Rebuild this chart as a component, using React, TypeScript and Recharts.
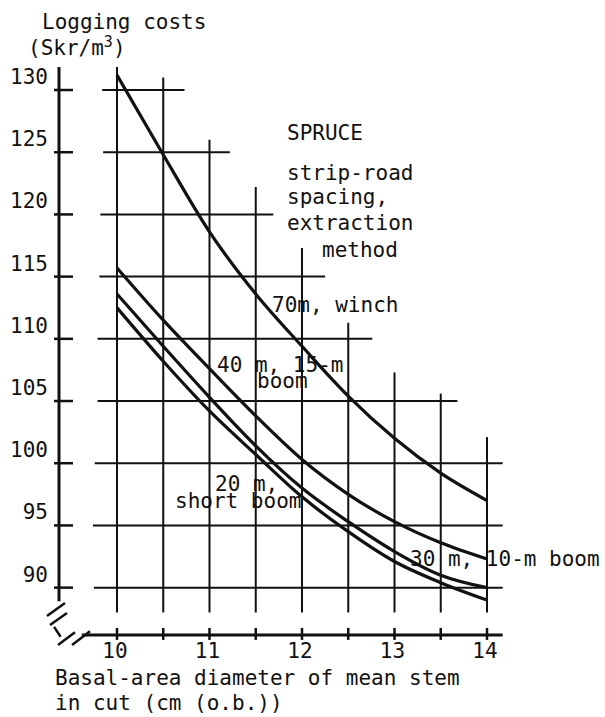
import React from 'react';
import { LineChart, Line, XAxis, YAxis, ReferenceLine } from 'recharts';

// basal-area diameter (cm)
const diameters = [10, 10.5, 11, 11.5, 12, 12.5, 13, 13.5, 14];
// logging costs (Skr/m3) per strip-road spacing / extraction method
const winch70 = [131.2, 124.8, 118.6, 113.6, 109.4, 105.4, 102.0, 99.2, 97.0];
const boom15m40 = [115.7, 111.5, 107.6, 103.8, 100.3, 97.5, 95.3, 93.6, 92.3];
const boom10m30 = [113.6, 109.4, 105.3, 101.4, 98.0, 95.3, 92.9, 91.0, 90.0];
const shortBoom20 = [112.5, 108.2, 104.2, 100.7, 97.3, 94.5, 92.1, 90.4, 89.0];

const yTicks = [90, 95, 100, 105, 110, 115, 120, 125, 130];
const xTicks = [10, 10.5, 11, 11.5, 12, 12.5, 13, 13.5, 14];

// staircase grid: where each line starts / stops
const hGridStart = [9.75, 9.74, 9.76, 9.79, 9.79, 9.81, 9.82, 9.85, 9.84];
const hGridEnd = [14.17, 14.17, 14.17, 13.68, 12.76, 12.25, 11.69, 11.22, 10.73];
const vGridTop = [131.85, 131.0, 126.0, 122.2, 117.3, 111.3, 107.3, 105.6, 102.1];
const vGridBottom = 88.0;

const data = diameters.map((x, i) => ({
  x,
  winch70: winch70[i],
  boom15m40: boom15m40[i],
  boom10m30: boom10m30[i],
  shortBoom20: shortBoom20[i],
}));

const INK = '#111';
const FONT = '"DejaVu Sans Mono", monospace';

const YTick = ({ x, y, payload }: any) => (
  <g>
    <line x1={x - 5} x2={x + 14} y1={y} y2={y} stroke={INK} strokeWidth={2.5} />
    <text x={x - 11} y={y - 6} textAnchor="end" fontFamily={FONT} fontSize={21} fill={INK}>
      {payload.value}
    </text>
  </g>
);

const XTick = ({ x, y, payload }: any) => (
  <g>
    <line x1={x} x2={x} y1={y - 6} y2={y + 6} stroke={INK} strokeWidth={2.5} />
    {Number.isInteger(payload.value) && (
      <text x={x - 2} y={y + 24} textAnchor="middle" fontFamily={FONT} fontSize={21} fill={INK}>
        {payload.value}
      </text>
    )}
  </g>
);

const seg = (x1: number, y1: number, x2: number, y2: number) => [
  { x: x1, y: y1 },
  { x: x2, y: y2 },
];

// axis break marks (data units)
const breakMarks = [
  seg(9.243, 87.72, 9.438, 88.76),
  seg(9.276, 87.0, 9.459, 87.96),
  seg(9.32, 86.85, 9.39, 86.05),
  seg(9.362, 85.39, 9.546, 86.41),
  seg(9.514, 85.39, 9.708, 86.5),
];

export default function App() {
  const textProps = { fontFamily: FONT, fontSize: 21, fill: INK };
  return (
    <div style={{ position: 'absolute', left: 0, top: 0, background: '#fff' }}>
      <LineChart
        width={605}
        height={717}
        data={data}
        margin={{ top: 52.7, right: 62.5, left: 58, bottom: 81.1 }}
      >
        <XAxis
          type="number"
          dataKey="x"
          domain={[9.373, 14.6]}
          allowDataOverflow
          ticks={xTicks}
          height={1}
          tickSize={0}
          tickMargin={0}
          axisLine={false}
          tickLine={false}
          tick={(p: any) => <XTick {...p} y={p.y - 1} />}
          interval={0}
        />
        <YAxis
          type="number"
          domain={[86.2, 133]}
          allowDataOverflow
          ticks={yTicks}
          width={1}
          tickSize={0}
          tickMargin={0}
          axisLine={false}
          tickLine={false}
          tick={(p: any) => <YTick {...p} />}
          interval={0}
        />

        {yTicks.map((v, i) => (
          <ReferenceLine
            key={`h${v}`}
            segment={seg(hGridStart[i], v, hGridEnd[i], v)}
            stroke={INK}
            strokeWidth={2}
            ifOverflow="visible"
          />
        ))}
        {xTicks.map((v, i) => (
          <ReferenceLine
            key={`v${v}`}
            segment={seg(v, vGridBottom, v, vGridTop[i])}
            stroke={INK}
            strokeWidth={2}
            ifOverflow="visible"
          />
        ))}

        {/* axes */}
        <ReferenceLine segment={seg(9.373, 131.85, 9.373, 88.9)} stroke={INK} strokeWidth={3} ifOverflow="visible" />
        <ReferenceLine segment={seg(9.62, 86.2, 14.17, 86.2)} stroke={INK} strokeWidth={3} ifOverflow="visible" />
        {breakMarks.map((s, i) => (
          <ReferenceLine key={`b${i}`} segment={s} stroke={INK} strokeWidth={2.5} ifOverflow="visible" />
        ))}

        <Line type="monotone" dataKey="winch70" stroke={INK} strokeWidth={3.2} dot={false} isAnimationActive={false} />
        <Line type="monotone" dataKey="boom15m40" stroke={INK} strokeWidth={3.2} dot={false} isAnimationActive={false} />
        <Line type="monotone" dataKey="boom10m30" stroke={INK} strokeWidth={3.2} dot={false} isAnimationActive={false} />
        <Line type="monotone" dataKey="shortBoom20" stroke={INK} strokeWidth={3.2} dot={false} isAnimationActive={false} />

        {/* titles and annotations */}
        <text x={42} y={29} {...textProps}>Logging costs</text>
        <text x={28} y={55} {...textProps}>
          (Skr/m<tspan dy={-8} fontSize={15}>3</tspan><tspan dy={8}>)</tspan>
        </text>
        <text x={287} y={140} {...textProps}>SPRUCE</text>
        <text x={287} y={180} {...textProps}>strip-road</text>
        <text x={287} y={204} {...textProps}>spacing,</text>
        <text x={287} y={230} {...textProps}>extraction</text>
        <text x={322} y={257} {...textProps}>method</text>
        <text x={272} y={312} {...textProps}>70m, winch</text>
        <text x={217} y={372} {...textProps}>40 m, 15-m</text>
        <text x={257} y={388} {...textProps}>boom</text>
        <text x={215} y={491} {...textProps}>20 m,</text>
        <text x={175} y={508} {...textProps}>short boom</text>
        <text x={410} y={566} {...textProps}>30 m, 10-m boom</text>
        <text x={55} y={685} {...textProps}>Basal-area diameter of mean stem</text>
        <text x={55} y={710} {...textProps}>in cut (cm (o.b.))</text>
      </LineChart>
    </div>
  );
}
